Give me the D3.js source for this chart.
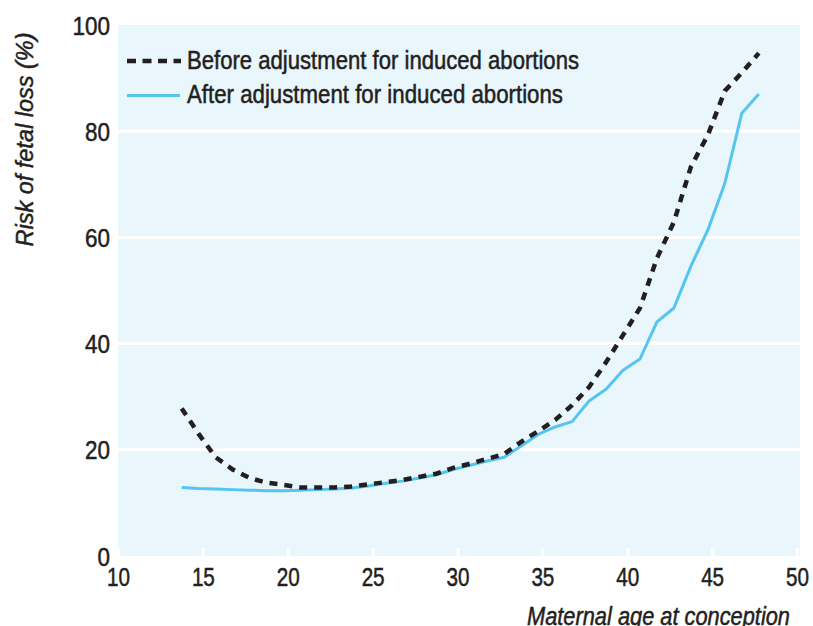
<!DOCTYPE html>
<html>
<head>
<meta charset="utf-8">
<script src="https://cdn.jsdelivr.net/npm/d3@7"></script>
<style>
  body { margin: 0; background: #fff; }
  svg { display: block; }
  text { font-family: "Liberation Sans Narrow", "Arial Narrow", "Liberation Sans", sans-serif; fill: #231f20; stroke: #231f20; stroke-width: 0.5px; }
</style>
</head>
<body>
<svg id="chart" width="813" height="626"></svg>
<script>
// maternal age at conception (years) and risk of fetal loss (%)
var ages = [13.75, 14.75, 15.75, 16.75, 17.75, 18.75, 19.75, 20.75, 21.75, 22.75,
            23.75, 24.75, 25.75, 26.75, 27.75, 28.75, 29.75, 30.75, 31.75, 32.75,
            33.75, 34.75, 35.75, 36.75, 37.75, 38.75, 39.75, 40.75, 41.75, 42.75,
            43.75, 44.75, 45.75, 46.75, 47.75];
var before = [27.8, 23.0, 18.6, 16.3, 14.7, 13.8, 13.4, 12.9, 12.9, 12.9,
              13.1, 13.5, 13.9, 14.3, 14.9, 15.5, 16.6, 17.4, 18.3, 19.2,
              21.5, 23.5, 25.6, 28.4, 31.8, 36.5, 41.6, 46.7, 56.1, 62.9,
              73.3, 79.3, 87.6, 91.0, 94.7];
var after = [12.9, 12.7, 12.6, 12.5, 12.4, 12.3, 12.3, 12.4, 12.5, 12.6,
             12.8, 13.2, 13.7, 14.1, 14.7, 15.3, 16.3, 17.1, 17.9, 18.6,
             20.7, 22.9, 24.3, 25.3, 29.2, 31.4, 35.0, 37.1, 44.1, 46.7,
             54.6, 61.4, 70.2, 83.4, 87.0];
var xTicks = [10, 15, 20, 25, 30, 35, 40, 45, 50];
var yTicks = [0, 20, 40, 60, 80, 100];
var legendLabels = ["Before adjustment for induced abortions", "After adjustment for induced abortions"];

var svg = d3.select("#chart");
var plotLeft = 118, plotRight = 797, plotTop = 25, plotBottom = 556, panelRight = 800;

var x = d3.scaleLinear().domain([10, 50]).range([plotLeft, plotRight]);
var y = d3.scaleLinear().domain([0, 100]).range([plotBottom, plotTop]);

// panel
svg.append("rect")
  .attr("x", plotLeft).attr("y", plotTop)
  .attr("width", panelRight - plotLeft).attr("height", plotBottom - plotTop)
  .attr("fill", "#e9f6fc");

// white gridlines
svg.selectAll(".grid")
  .data(yTicks.filter(function(d) { return d > 0 && d < 100; }))
  .join("line")
  .attr("class", "grid")
  .attr("x1", plotLeft).attr("x2", panelRight)
  .attr("y1", function(d) { return y(d); })
  .attr("y2", function(d) { return y(d); })
  .attr("stroke", "#fff").attr("stroke-width", 3);

// condensed digits
function squeeze(sel, perChar) {
  sel.attr("textLength", function() { return this.textContent.length * perChar; })
     .attr("lengthAdjust", "spacingAndGlyphs");
}

// y labels
var yAxis = svg.append("g")
  .attr("transform", "translate(" + plotLeft + ",0)")
  .call(d3.axisLeft(y).tickValues(yTicks).tickSize(0).tickPadding(8));
yAxis.select(".domain").remove();
yAxis.selectAll("text")
  .attr("dy", "0.36em")
  .style("font-size", "25px")
  .attr("fill", "#231f20")
  .call(squeeze, 12.5);

// x axis: white notches cut into the panel + labels
var xAxis = svg.append("g")
  .attr("transform", "translate(0," + plotBottom + ")")
  .call(d3.axisBottom(x).tickValues(xTicks).tickSize(-8).tickPadding(12));
xAxis.select(".domain").remove();
xAxis.selectAll("line").attr("stroke", "#fff").attr("stroke-width", 3);
xAxis.selectAll("text")
  .style("font-size", "25px")
  .attr("fill", "#231f20")
  .call(squeeze, 11.5);

// axis titles
svg.append("text")
  .attr("transform", "translate(33,139.5) rotate(-90)")
  .attr("text-anchor", "middle")
  .attr("textLength", 214)
  .attr("lengthAdjust", "spacingAndGlyphs")
  .style("font-size", "24px")
  .style("font-style", "italic")
  .text("Risk of fetal loss (%)");

svg.append("text")
  .attr("x", 790).attr("y", 625)
  .attr("text-anchor", "end")
  .attr("textLength", 263)
  .attr("lengthAdjust", "spacingAndGlyphs")
  .style("font-size", "25px")
  .style("font-style", "italic")
  .text("Maternal age at conception");

// curves
var line = d3.line()
  .x(function(d) { return x(d[0]); })
  .y(function(d) { return y(d[1]); });

svg.append("path")
  .datum(d3.zip(ages, after))
  .attr("d", line)
  .attr("fill", "none")
  .attr("stroke", "#55c5f0")
  .attr("stroke-width", 3)
  .attr("stroke-linejoin", "round");

svg.append("path")
  .datum(d3.zip(ages, before))
  .attr("d", line)
  .attr("fill", "none")
  .attr("stroke", "#231f20")
  .attr("stroke-width", 4.5)
  .attr("stroke-dasharray", "8,7");

// legend
var legend = svg.append("g");
legend.append("line")
  .attr("x1", 127).attr("x2", 181).attr("y1", 61).attr("y2", 61)
  .attr("stroke", "#231f20").attr("stroke-width", 4.5)
  .attr("stroke-dasharray", "9,6.5");
legend.append("line")
  .attr("x1", 127).attr("x2", 180).attr("y1", 95.5).attr("y2", 95.5)
  .attr("stroke", "#55c5f0").attr("stroke-width", 3);
legend.append("text")
  .attr("x", 187).attr("y", 68.5)
  .attr("textLength", 392)
  .attr("lengthAdjust", "spacingAndGlyphs")
  .style("font-size", "25px")
  .text(legendLabels[0]);
legend.append("text")
  .attr("x", 187).attr("y", 103)
  .attr("textLength", 376)
  .attr("lengthAdjust", "spacingAndGlyphs")
  .style("font-size", "25px")
  .text(legendLabels[1]);
</script>
</body>
</html>
